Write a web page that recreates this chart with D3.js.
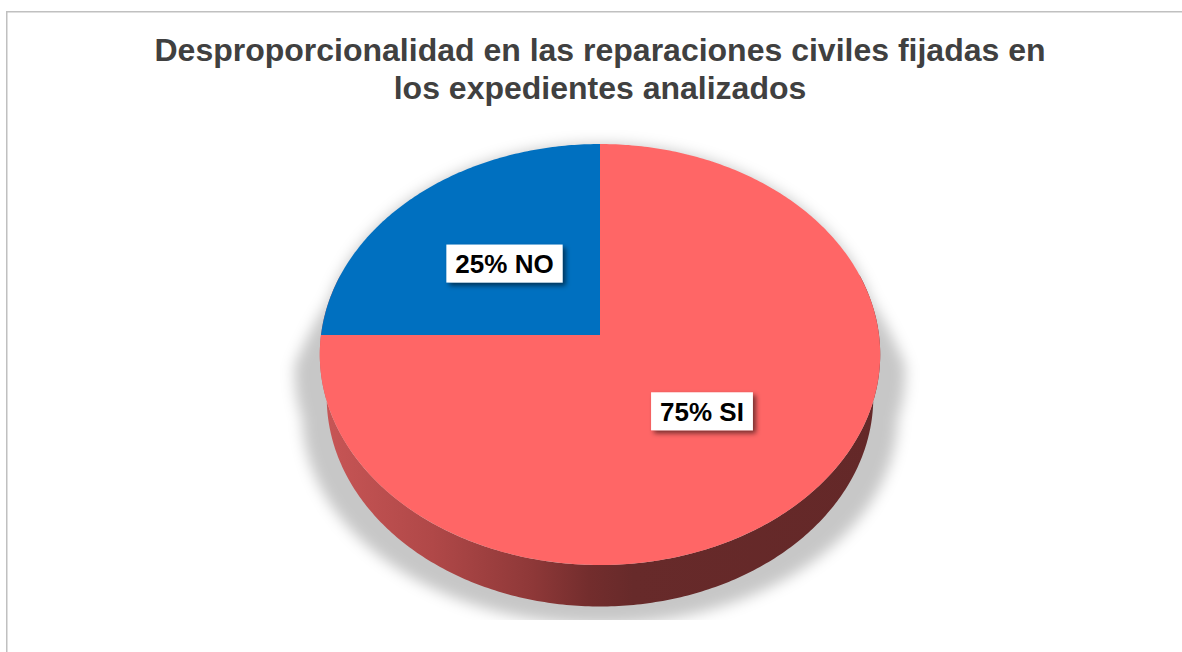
<!DOCTYPE html>
<html>
<head>
<meta charset="utf-8">
<script src="https://cdn.jsdelivr.net/npm/d3@7"></script>
<style>
    body { margin: 0; background: #fff; }
    svg { display: block; font-family: "Liberation Sans", Arial, sans-serif; }
</style>
</head>
<body>
<div id="chart"></div>
<script>
const categories = ["SI", "NO"];
const values = [75, 25];
const colors = ["#FF6666", "#0070C0"];
const titleLines = ["Desproporcionalidad en las reparaciones civiles fijadas en", "los expedientes analizados"];

class Pie3D {
    constructor(element, configs) {
        let defaultConfig = {
            width: 1182,
            height: 652,
            cx: 600,
            cy: 335,
            halfWidth: 279,
            sinTilt: 0.748,
            distance: 7.16,
            thickness: 0.24
        };
        this.config = Object.assign({}, defaultConfig, configs);
        this.svg = d3.select(element).append("svg")
            .attr("width", this.config.width)
            .attr("height", this.config.height);
        this.initParams();
        this.drawDefs();
        this.drawFrame();
        this.drawTitle();
        this.drawShadow();
        this.drawSide();
        this.drawTop();
        this.drawLabels();
    }

    initParams() {
        let c = this.config;
        c.cosTilt = Math.sqrt(1 - c.sinTilt * c.sinTilt);
        c.focal = c.halfWidth * c.distance;
        this.arcs = d3.pie().sort(null).value(d => d)(values);
        this.line = d3.line().x(d => d[0]).y(d => d[1]);
    }

    // pie plane (u right, v back, w up) -> screen
    project(u, v, w) {
        let c = this.config;
        let Y = v * c.sinTilt + w * c.cosTilt;
        let Z = v * c.cosTilt - w * c.sinTilt;
        let k = c.focal / (c.distance + Z);
        return [c.cx + u * k, c.cy - Y * k];
    }

    // angle clockwise from 12 o'clock
    rim(a, r, w) {
        return this.project(r * Math.sin(a), r * Math.cos(a), w);
    }

    arcPoints(a0, a1, r, w) {
        let n = Math.max(2, Math.ceil(Math.abs(a1 - a0) * 80));
        let pts = [];
        for (let i = 0; i <= n; i++) {
            pts.push(this.rim(a0 + (a1 - a0) * i / n, r, w));
        }
        return pts;
    }

    drawDefs() {
        let defs = this.svg.append("defs");
        let grad = defs.append("linearGradient")
            .attr("id", "sideGrad")
            .attr("gradientUnits", "userSpaceOnUse")
            .attr("x1", 321).attr("y1", 0)
            .attr("x2", 879).attr("y2", 0);
        [[0, "#c85656"], [0.2, "#b04848"], [0.38, "#8e3838"], [0.48, "#732d2d"], [0.56, "#672a2a"], [1, "#642828"]]
            .forEach(s => grad.append("stop").attr("offset", s[0]).attr("stop-color", s[1]));

        defs.append("filter").attr("id", "blur")
            .attr("x", "-20%").attr("y", "-20%").attr("width", "140%").attr("height", "140%")
            .append("feGaussianBlur").attr("stdDeviation", 7);

        defs.append("filter").attr("id", "boxShadow")
            .attr("x", "-30%").attr("y", "-50%").attr("width", "160%").attr("height", "200%")
            .append("feDropShadow")
            .attr("dx", 3).attr("dy", 3).attr("stdDeviation", 2.5)
            .attr("flood-color", "#000").attr("flood-opacity", 0.55);

        defs.append("clipPath").attr("id", "plotClip")
            .append("rect").attr("x", 0).attr("y", 0).attr("width", this.config.width).attr("height", 620);
    }

    drawFrame() {
        this.svg.append("rect")
            .attr("x", 6.75).attr("y", 11.75)
            .attr("width", this.config.width + 20).attr("height", this.config.height + 20)
            .attr("fill", "#fff")
            .attr("stroke", "#c0c0c0")
            .attr("stroke-width", 1.5);
    }

    drawTitle() {
        this.svg.append("g").selectAll("text")
            .data(titleLines)
            .enter()
            .append("text")
            .attr("x", 600)
            .attr("y", (d, i) => 61 + i * 38)
            .attr("text-anchor", "middle")
            .attr("font-size", 32)
            .attr("font-weight", "bold")
            .attr("fill", "#404040")
            .text(d => d);
    }

    silhouette() {
        let h = -this.config.thickness;
        let back = this.arcPoints(-Math.PI / 2 - 0.3, Math.PI / 2 + 0.3, 1, 0);
        let front = this.arcPoints(Math.PI / 2 - 0.3, 3 * Math.PI / 2 + 0.3, 1, h);
        return back.concat(front);
    }

    //perspective shadow, widening towards the bottom
    drawShadow() {
        let c = this.config;
        let pts = this.silhouette().map(p => {
            let dy = Math.max(0, p[1] - 300);
            let f = 1 + Math.min(0.09, dy * 0.0017);
            return [c.cx + (p[0] - c.cx) * f, p[1] + Math.min(18, dy * 0.25)];
        });
        this.svg.append("g")
            .attr("clip-path", "url(#plotClip)")
            .append("path")
            .attr("d", this.line(pts) + "Z")
            .attr("fill", "#000")
            .attr("fill-opacity", 0.22)
            .attr("filter", "url(#blur)");
    }

    drawSide() {
        let h = -this.config.thickness;
        let a0 = Math.PI / 2 - 0.3, a1 = 3 * Math.PI / 2 + 0.3;
        let top = this.arcPoints(a0, a1, 1, 0);
        let bottom = this.arcPoints(a1, a0, 1, h);
        this.svg.append("path")
            .attr("d", this.line(top.concat(bottom)) + "Z")
            .attr("fill", "url(#sideGrad)");
    }

    drawTop() {
        let center = this.project(0, 0, 0);
        this.svg.append("g").selectAll("path")
            .data(this.arcs)
            .enter()
            .append("path")
            .attr("d", d => this.line([center].concat(this.arcPoints(d.startAngle, d.endAngle, 1, 0))) + "Z")
            .attr("fill", (d, i) => colors[i]);
    }

    drawLabels() {
        let fontSize = 26;
        let g = this.svg.append("g");
        this.arcs.forEach((d, i) => {
            let mid = (d.startAngle + d.endAngle) / 2;
            let p = this.rim(mid, 0.5, 0);
            let label = g.append("g").attr("transform", "translate(" + p[0] + "," + p[1] + ")");
            let box = label.append("rect")
                .attr("fill", "#fff")
                .attr("filter", "url(#boxShadow)");
            let text = label.append("text")
                .attr("text-anchor", "middle")
                .attr("dy", "0.36em")
                .attr("font-size", fontSize)
                .attr("font-weight", "bold")
                .attr("fill", "#000")
                .text(values[i] + "% " + categories[i]);
            let w = text.node().getComputedTextLength() + 18;
            box.attr("x", -w / 2).attr("y", -19).attr("width", w).attr("height", 38);
        });
    }
}

new Pie3D("#chart", {});
</script>
</body>
</html>
